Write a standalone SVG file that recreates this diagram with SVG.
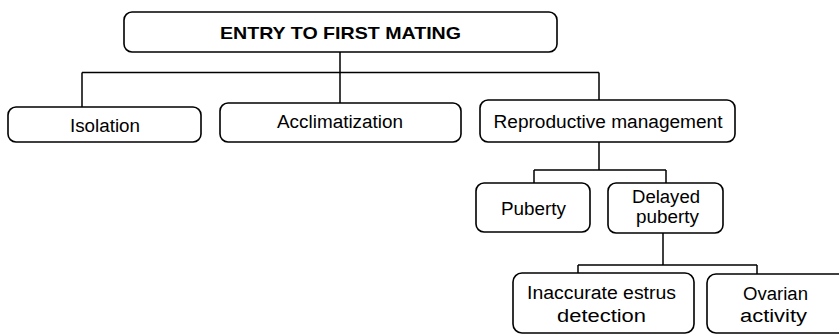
<svg xmlns="http://www.w3.org/2000/svg" width="839" height="335" viewBox="0 0 839 335">
<style>
.box{fill:#fff;stroke:#000;stroke-width:1.6}
.ln{fill:none;stroke:#000;stroke-width:1.5}
text{font-family:"Liberation Sans",Arial,sans-serif;font-size:18px;fill:#000;text-anchor:middle}
.b{font-weight:bold;font-size:17px}
</style>
<rect width="839" height="335" fill="#fff"/>
<g id="connectors">
<path class="ln" d="M340,52V72.5M82,72.5H599M82,72.5V107M340,72.5V103M599,72.5V100M599,142V170M534,170H666M534,170V183M666,170V183M663,233V265M578,265H757M578,265V273M757,265V274"/>
</g>
<g id="n-entry"><rect class="box" x="124" y="12" width="433" height="40" rx="8"/><text class="b" x="340.5" y="39" textLength="241" lengthAdjust="spacingAndGlyphs">ENTRY TO FIRST MATING</text></g>
<g id="n-isolation"><rect class="box" x="8" y="107" width="193" height="35" rx="8"/><text x="105" y="131.5" textLength="70" lengthAdjust="spacingAndGlyphs">Isolation</text></g>
<g id="n-acclim"><rect class="box" x="220" y="103" width="241" height="39" rx="8"/><text x="340" y="128" textLength="126" lengthAdjust="spacingAndGlyphs">Acclimatization</text></g>
<g id="n-repro"><rect class="box" x="480" y="100" width="255" height="42" rx="8"/><text x="608" y="128" textLength="229" lengthAdjust="spacingAndGlyphs">Reproductive management</text></g>
<g id="n-puberty"><rect class="box" x="476" y="183" width="114" height="49" rx="8"/><text x="533.5" y="215" textLength="65" lengthAdjust="spacingAndGlyphs">Puberty</text></g>
<g id="n-delayed"><rect class="box" x="608" y="183" width="115" height="50" rx="8"/><text x="666" y="203" textLength="68" lengthAdjust="spacingAndGlyphs">Delayed</text><text x="667.5" y="223" textLength="63" lengthAdjust="spacingAndGlyphs">puberty</text></g>
<g id="n-inaccurate"><rect class="box" x="513" y="273" width="181" height="60" rx="9"/><text x="601.5" y="299" textLength="149" lengthAdjust="spacingAndGlyphs">Inaccurate estrus</text><text x="601.5" y="322" textLength="89" lengthAdjust="spacingAndGlyphs">detection</text></g>
<g id="n-ovarian"><rect class="box" x="707" y="274" width="140" height="59" rx="9"/><text x="775.5" y="300" textLength="65" lengthAdjust="spacingAndGlyphs">Ovarian</text><text x="773.5" y="322" textLength="67" lengthAdjust="spacingAndGlyphs">activity</text></g>
</svg>
